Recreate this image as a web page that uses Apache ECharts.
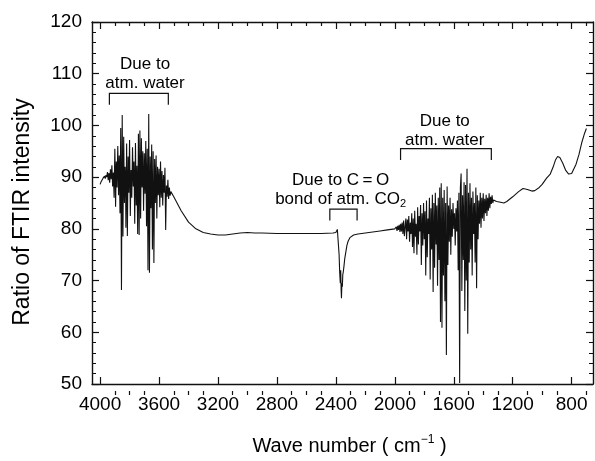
<!DOCTYPE html>
<html>
<head>
<meta charset="utf-8">
<script src="https://cdn.jsdelivr.net/npm/echarts@6/dist/echarts.min.js"></script>
<style>
  html, body { margin: 0; padding: 0; background: #fff; }
  #chart { width: 595px; height: 461px; }
</style>
</head>
<body>
<div id="chart"></div>
<script>
// FTIR intensity ratio vs. wave number, [cm^-1, ratio] pairs, high to low wave number.

// O-H stretching band of atmospheric water vapour
const waterStretchBand = [
  [4000,88.6],[3995,89.0],[3990,89.3],[3985,89.1],[3980,89.8],[3975,89.5],[3970,90.2],[3965,89.7],
  [3960,90.4],[3955,90.0],[3950,91.0],[3945,89.4],[3940,90.8],[3935,88.9],[3930,91.5],[3925,89.6],
  [3920,92.3],[3915,88.2],[3910,90.9],[3905,86.0],[3900,95.5],[3897,90.2],[3895,84.3],[3890,93.0],[3885,88.0],
  [3880,96.0],[3877,91.0],[3875,86.5],[3870,94.2],[3865,83.0],[3860,99.5],[3855,68.2],[3850,102.0],[3845,78.5],
  [3840,97.8],[3835,85.0],[3830,92.0],[3827,88.5],[3825,80.2],[3820,96.5],[3815,78.6],[3810,94.0],[3805,87.0],
  [3800,97.2],[3795,82.5],[3790,91.4],[3787,89.0],[3785,86.0],[3780,95.8],[3775,88.2],[3770,93.0],[3765,81.0],
  [3760,96.6],[3755,84.5],[3750,92.2],[3745,79.0],[3740,98.4],[3735,78.8],[3730,99.0],[3725,82.0],
  [3720,97.5],[3717,92.0],[3715,88.0],[3710,95.0],[3705,83.5],[3700,94.6],[3695,86.8],[3690,97.0],[3685,80.5],
  [3680,95.5],[3675,72.0],[3670,102.2],[3665,71.5],[3660,94.0],[3655,84.0],[3650,96.3],[3645,76.0],
  [3640,95.0],[3635,73.4],[3630,93.5],[3625,85.0],[3620,94.2],[3615,82.0],[3610,92.0],[3607,88.6],[3605,86.5],
  [3600,91.6],[3595,84.2],[3590,93.0],[3585,86.0],[3580,91.2],[3575,84.5],[3570,90.4],[3565,87.0],
  [3560,91.8],[3555,79.8],[3550,88.4],[3545,86.2],[3540,89.5],[3535,85.8],[3530,88.0],[3525,86.4],
  [3520,87.2]
];

// smooth baseline between the water bands, including the CO2 dip near 2360
const midBaseline = [
  [3500,86.2],[3450,83.5],[3400,81.3],[3350,80.0],[3300,79.3],[3250,79.0],[3200,78.8],[3150,78.8],
  [3100,79.0],[3050,79.2],[3000,79.3],[2950,79.2],[2900,79.2],[2800,79.1],[2700,79.1],[2600,79.1],
  [2500,79.1],[2420,79.2],[2400,79.3],[2390,79.9],[2385,79.6],[2378,75.0],[2374,71.5],[2370,69.5],
  [2367,72.0],[2364,68.0],[2362,66.6],[2359,69.5],[2356,68.8],[2353,71.2],[2350,71.6],[2345,72.8],
  [2340,74.2],[2332,75.6],[2325,76.8],[2317,77.6],[2305,78.3],[2295,78.6],[2280,78.8],[2250,79.0],
  [2200,79.2],[2150,79.4],[2100,79.6],[2050,79.8],[2000,80.0]
];

// H-O-H bending band of atmospheric water vapour
const waterBendBand = [
  [1995,80.0],[1990,80.4],[1985,79.6],[1980,80.6],[1975,79.8],[1970,80.8],[1965,79.4],[1960,81.0],
  [1955,79.5],[1950,81.2],[1945,79.0],[1940,81.6],[1935,78.6],[1930,80.4],[1925,82.0],[1920,78.0],
  [1915,81.8],[1910,79.5],[1905,82.5],[1900,77.5],[1895,81.2],[1890,79.0],[1885,83.0],[1880,76.5],
  [1875,82.0],[1870,75.3],[1865,83.5],[1860,78.5],[1855,81.0],[1850,75.0],[1845,84.2],[1840,77.0],
  [1835,82.5],[1830,79.5],[1825,84.6],[1820,73.0],[1815,83.0],[1810,76.8],[1805,85.0],[1800,78.0],
  [1795,83.4],[1790,71.0],[1785,85.5],[1780,74.5],[1775,82.0],[1770,79.0],[1765,86.0],[1760,70.2],
  [1755,84.0],[1750,76.0],[1745,86.6],[1740,67.8],[1735,85.0],[1730,72.5],[1725,87.0],[1720,77.0],
  [1715,84.5],[1710,69.0],[1705,86.0],[1700,74.0],[1695,88.0],[1690,62.0],[1685,88.8],[1680,60.9],
  [1675,86.0],[1670,71.0],[1665,87.5],[1660,66.0],[1655,85.0],[1650,55.6],[1645,88.2],[1640,73.0],
  [1635,84.5],[1630,77.5],[1625,86.0],[1620,75.0],[1615,83.8],[1610,78.5],[1605,85.0],[1600,80.0],
  [1595,83.0],[1590,76.8],[1585,84.0],[1580,79.5],[1575,85.5],[1570,72.0],[1565,87.0],[1560,50.2],
  [1555,88.0],[1550,90.7],[1545,68.0],[1540,86.5],[1535,74.0],[1530,89.0],[1525,64.1],[1520,88.5],
  [1515,70.0],[1510,91.6],[1505,59.7],[1500,87.0],[1495,73.5],[1490,88.8],[1485,76.0],[1480,86.0],
  [1475,71.0],[1470,87.2],[1465,79.0],[1460,85.0],[1455,73.5],[1450,88.0],[1445,68.5],[1440,86.5],
  [1435,78.0],[1430,85.5],[1425,81.0],[1420,87.0],[1415,80.2],[1410,86.0],[1405,82.0],[1400,86.9],
  [1395,81.5],[1390,85.8],[1385,83.0],[1380,86.6],[1375,82.5],[1370,86.0],[1365,83.5],[1360,86.9],
  [1355,84.0],[1350,86.2],[1345,84.8],[1340,86.5],[1335,85.0],[1330,85.6],[1320,85.4],[1310,85.3]
];

// fingerprint region up to the low wave number end
const lowBaseline = [
  [1290,85.2],[1260,85.0],[1240,85.3],[1200,86.2],[1160,87.2],[1130,87.8],[1100,87.6],[1070,87.3],
  [1050,87.4],[1020,88.0],[1000,88.6],[970,89.8],[945,90.6],[925,92.0],[910,93.3],[895,94.0],
  [880,93.8],[860,92.7],[840,91.3],[820,90.6],[800,90.7],[790,91.0],[770,92.5],[750,94.4],
  [730,96.8],[712,98.5],[700,99.4]
];

const xMajorTicks = [4000, 3600, 3200, 2800, 2400, 2000, 1600, 1200, 800];

const spectrum = [].concat(waterStretchBand, midBaseline, waterBendBand, lowBaseline);

// minor x ticks every 100 cm^-1 between the labelled ones
const xMinorTicks = [];
for (let v = 700; v <= 4000; v += 100) {
  if (xMajorTicks.indexOf(v) < 0) xMinorTicks.push(v);
}

const FONT = 'Liberation Sans, Arial, Helvetica, sans-serif';
const X_MIN = 655, X_MAX = 4055;
const gridBox = { left: 92, right: 2, top: 22, bottom: 66 };
const ink = '#111';

function xAxisDef(gridIndex, position, ticks, tickLen, withLabels) {
  return {
    type: 'value', gridIndex, position, min: X_MIN, max: X_MAX, inverse: true,
    axisLine: { show: gridIndex === 0, lineStyle: { color: ink, width: 1.4 } },
    axisTick: { show: true, inside: true, length: tickLen, customValues: ticks,
                lineStyle: { color: ink, width: 1.2 } },
    axisLabel: withLabels
      ? { show: true, customValues: ticks, fontSize: 19, color: '#000', fontFamily: FONT, margin: 11,
          formatter: v => String(v) }
      : { show: false },
    splitLine: { show: false }
  };
}

function yAxisDef(gridIndex, position, withLabels, visible) {
  return {
    type: 'value', gridIndex, position, min: 50, max: 120, interval: 10,
    show: visible,
    axisLine: { show: true, lineStyle: { color: ink, width: 1.4 } },
    axisTick: { show: true, inside: true, length: 7, lineStyle: { color: ink, width: 1.2 } },
    minorTick: { show: true, splitNumber: 5, length: 4, lineStyle: { color: ink, width: 1 } },
    axisLabel: withLabels
      ? { show: true, fontSize: 19, color: '#000', fontFamily: FONT, margin: 10 }
      : { show: false },
    splitLine: { show: false }
  };
}

const xMain = xAxisDef(0, 'bottom', xMajorTicks, 7, true);
xMain.name = 'Wave number ( cm{sup|\u22121} )';
xMain.nameLocation = 'middle';
xMain.nameGap = 50;
xMain.nameTextStyle = {
  fontSize: 20, color: '#000', fontFamily: FONT, padding: [0, 0, 0, 14],
  rich: { sup: { fontSize: 12, fontFamily: FONT, color: '#000', verticalAlign: 'top', padding: [0, 0, 12, 0] } }
};

const yMain = yAxisDef(0, 'left', true, true);
yMain.name = 'Ratio of FTIR intensity';
yMain.nameLocation = 'middle';
yMain.nameGap = 58;
yMain.nameTextStyle = { fontSize: 23, color: '#000', fontFamily: FONT, padding: [0, 18, 0, 0] };

const option = {
  animation: false,
  backgroundColor: '#fff',
  grid: [
    Object.assign({}, gridBox, { containLabel: false }),
    Object.assign({}, gridBox, { containLabel: false })
  ],
  xAxis: [
    xMain,
    xAxisDef(0, 'top', xMajorTicks, 7, false),
    xAxisDef(1, 'bottom', xMinorTicks, 4, false),
    xAxisDef(1, 'top', xMinorTicks, 4, false)
  ],
  yAxis: [
    yMain,
    yAxisDef(0, 'right', false, true),
    yAxisDef(1, 'left', false, false)
  ],
  series: [{
    type: 'line',
    xAxisIndex: 0, yAxisIndex: 0,
    data: spectrum,
    showSymbol: false,
    symbol: 'none',
    clip: true,
    lineStyle: { color: ink, width: 1.1 },
    silent: true
  }]
};

const chart = echarts.init(document.getElementById('chart'), null, { renderer: 'canvas' });
chart.setOption(option);

// Bracketed notes over the absorption regions, anchored in data coordinates
const notes = [
  { lines: ['Due to', 'atm. water'], at: [3695, 110.0], span: [3937, 3537], top: 106.2, leg: 2.2 },
  { lines: ['Due to C\u2009=\u2009O', 'bond of atm. CO{sub|2}'], at: [2368, 87.5], span: [2441, 2256], top: 83.8, leg: 2.2 },
  { lines: ['Due to', 'atm. water'], at: [1661, 99.0], span: [1961, 1345], top: 95.5, leg: 2.2 }
];

const px = (v, y) => chart.convertToPixel({ xAxisIndex: 0, yAxisIndex: 0 }, [v, y]);
const graphics = [];
notes.forEach(n => {
  const c = px(n.at[0], n.at[1]);
  graphics.push({
    type: 'text', x: c[0], y: c[1], silent: true,
    style: {
      text: n.lines.join('\n'), align: 'center', verticalAlign: 'middle',
      fontSize: 17, fontFamily: FONT, fill: '#000', lineHeight: 19,
      rich: { sub: { fontSize: 11, fontFamily: FONT, fill: '#000', verticalAlign: 'bottom', padding: [6, 0, 0, 0] } }
    }
  });
  const a = px(n.span[0], n.top), b = px(n.span[1], n.top);
  const a2 = px(n.span[0], n.top - n.leg), b2 = px(n.span[1], n.top - n.leg);
  graphics.push({
    type: 'polyline', silent: true,
    shape: { points: [[a2[0], a2[1]], [a[0], a[1]], [b[0], b[1]], [b2[0], b2[1]]] },
    style: { stroke: ink, lineWidth: 1.2, fill: null }
  });
});
chart.setOption({ graphic: graphics });
</script>
</body>
</html>
